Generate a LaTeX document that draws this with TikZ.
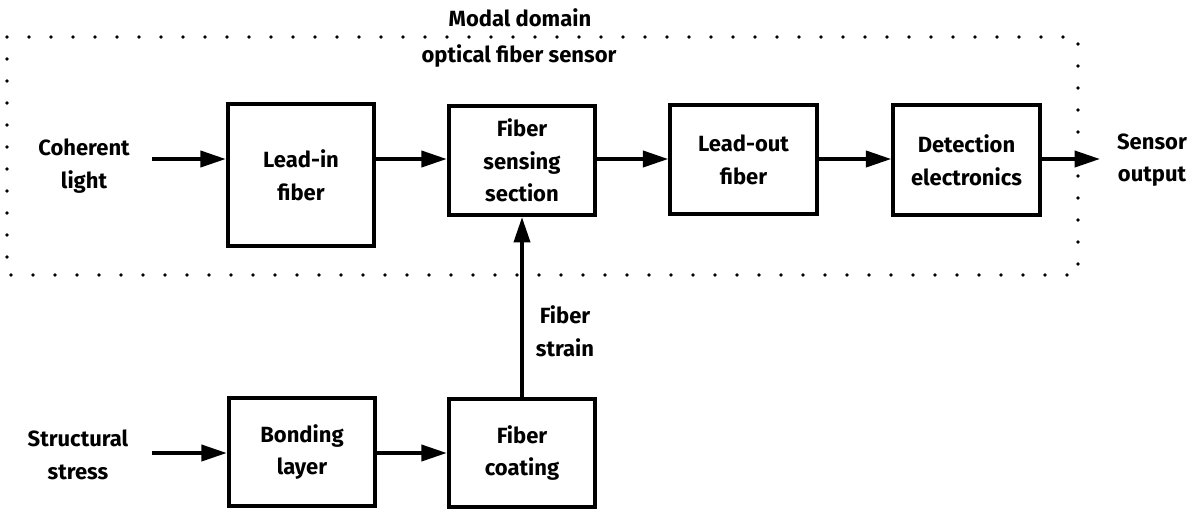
\documentclass[tikz,border=0pt]{standalone}
\usepackage{fontspec}
\setmainfont{Fira Sans}
\usetikzlibrary{arrows.meta}
\begin{document}
\begin{tikzpicture}[x=0.75pt,y=-0.75pt,
  blk/.style={draw,line width=2.8pt,minimum width=110pt,align=center,inner sep=0pt,font=\bfseries\fontsize{16.5}{24.5}\selectfont},
  lbl/.style={align=center,font=\bfseries\fontsize{16.5}{24.5}\selectfont},
  arr/.style={line width=2.8pt,-{Triangle[length=19pt,width=12pt]}},
  frame/.style={line width=2.8pt,line cap=round,dash pattern=on 0pt off 16.5pt}]
\useasboundingbox (0,0) rectangle (1196,512);
\draw[frame] (7,37) rectangle (1078,275);
\node[lbl] (md) at (520,18) {Modal domain};
\node[lbl] (ofs) at (519,56) {optical fiber sensor};
\node[blk,minimum height=106pt] (lead) at (301,175) {Lead-in\\fiber};
\node[blk,minimum height=82pt] (sens) at (522,160.5) {Fiber\\sensing\\section};
\node[blk,minimum height=82pt] (out) at (743.5,159.5) {Lead-out\\fiber};
\node[blk,minimum height=82pt] (det) at (966.5,160) {Detection\\electronics};
\node[blk,minimum height=81pt] (bond) at (302,452) {Bonding\\layer};
\node[blk,minimum height=81pt] (coat) at (522,453) {Fiber\\coating};
\node[lbl] (coh) at (84,166) {Coherent\\light};
\node[lbl] (so) at (1152,160) {Sensor\\output};
\node[lbl] (ss) at (78,455) {Structural\\stress};
\node[lbl] (fs) at (565,331) {Fiber\\strain};
\coordinate (cohe) at (152,159);
\coordinate (sse) at (152,453);
\coordinate (soe) at (1100,159);
\draw[arr] (cohe) -- (cohe -| lead.west);
\draw[arr] (lead.east |- cohe) -- (cohe -| sens.west);
\draw[arr] (sens.east |- cohe) -- (cohe -| out.west);
\draw[arr] (out.east |- cohe) -- (cohe -| det.west);
\draw[arr] (det.east |- cohe) -- (soe);
\draw[arr] (sse) -- (sse -| bond.west);
\draw[arr] (bond.east |- sse) -- (sse -| coat.west);
\draw[arr] (coat.north) -- (sens.south);
\end{tikzpicture}
\end{document}
